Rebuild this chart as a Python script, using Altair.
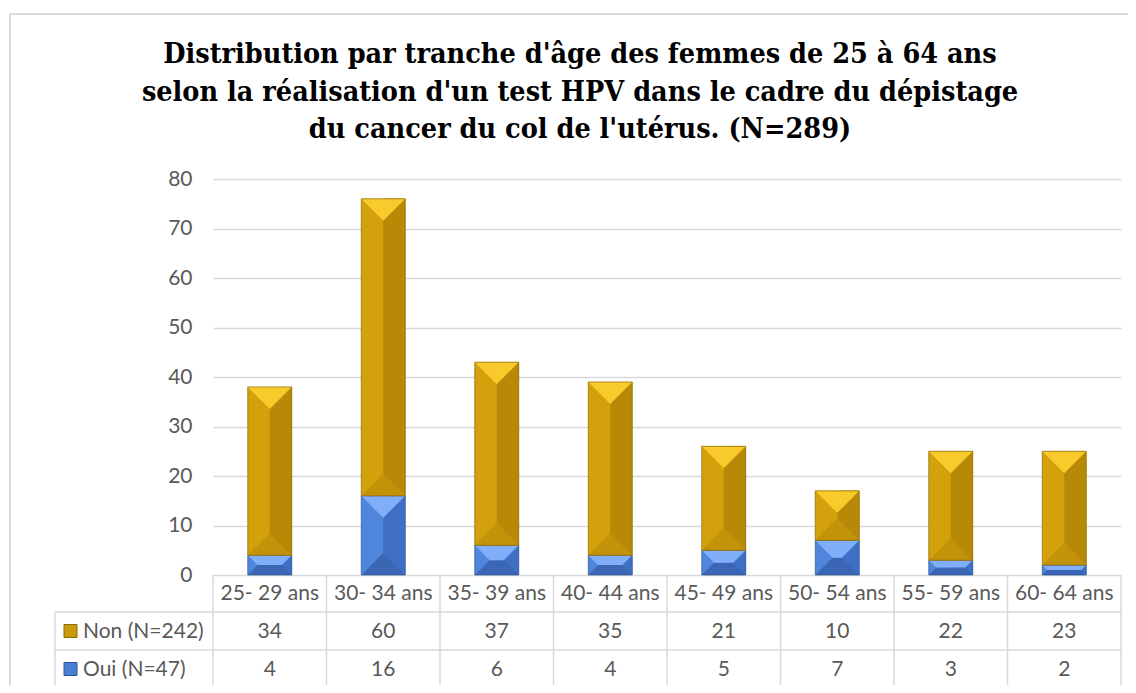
import altair as alt
import pandas as pd

categories = ["25- 29 ans", "30- 34 ans", "35- 39 ans", "40- 44 ans",
              "45- 49 ans", "50- 54 ans", "55- 59 ans", "60- 64 ans"]
non_values = [34, 60, 37, 35, 21, 10, 22, 23]
oui_values = [4, 16, 6, 4, 5, 7, 3, 2]
series_names = ["Oui", "Non"]
row_labels = ["Non (N=242)", "Oui (N=47)"]
y_ticks = [0, 10, 20, 30, 40, 50, 60, 70, 80]
title_lines = [
    "Distribution par tranche d'âge des femmes de 25 à 64 ans",
    "selon la réalisation d'un test HPV dans le cadre du dépistage",
    "du cancer du col de l'utérus. (N=289)",
]

# stacked segments built from the arrays
rows = []
for c, o, n in zip(categories, oui_values, non_values):
    rows.append(dict(cat=c, serie="Oui", start=0, end=o, value=o))
    rows.append(dict(cat=c, serie="Non", start=o, end=o + n, value=n))
df = pd.DataFrame(rows)
df_cat = pd.DataFrame(dict(cat=categories))
df_non = pd.DataFrame(dict(cat=categories, value=non_values))
df_oui = pd.DataFrame(dict(cat=categories, value=oui_values))

W, H = 908, 396
YMAX = 80
BAR_W = 44
FONT = "Lato"
TXT = "#595959"
GRID = "#D9D9D9"

# table geometry (pixels relative to plot area)
HDR_BOTTOM = 433
ROW1_BOTTOM = 471
ROW2_BOTTOM = 509
LEFT_COL = -158

xscale = alt.Scale(domain=categories, paddingInner=0, paddingOuter=0)
xenc = alt.X("cat:N", sort=categories, scale=xscale, axis=None)
yscale = alt.Scale(domain=[0, YMAX], nice=False)
yaxis = alt.Axis(values=y_ticks, grid=True, ticks=False, domain=False,
                 labelPadding=21, labelFontSize=21, labelFont=FONT,
                 labelColor=TXT, gridColor=GRID, gridWidth=1.5, title=None)


def colorenc(rng):
    return alt.Color("serie:N", scale=alt.Scale(domain=series_names, range=rng),
                     legend=None)


# bevel depth in symbol units (1 unit = half bar width), capped at 1
dd_expr = f"min(1, (datum.end - datum.start) * {H / YMAX} / {BAR_W})"
top_shape = ("'M-1,-1L1,-1L' + (1 - datum.d) + ',' + (datum.d - 1) + "
             "'L' + (datum.d - 1) + ',' + (datum.d - 1) + 'Z'")
bot_shape = ("'M-1,1L1,1L' + (1 - datum.d) + ',' + (1 - datum.d) + "
             "'L' + (datum.d - 1) + ',' + (1 - datum.d) + 'Z'")

layers = []
for s in ["Oui", "Non"]:
    seg = (alt.Chart(df).transform_filter(alt.datum.serie == s)
           .transform_calculate(d=dd_expr)
           .transform_calculate(tshape=top_shape, bshape=bot_shape))
    base_col = {"Oui": "#4F86DB", "Non": "#D3A10B"}[s]
    right_col = {"Oui": "#3F6FC4", "Non": "#B78906"}[s]
    top_col = {"Oui": "#80AEF9", "Non": "#F8CA2C"}[s]
    bot_col = {"Oui": "#3B66B5", "Non": "#C29208"}[s]
    layers.append(seg.mark_bar(width=BAR_W).encode(
        x=xenc, y=alt.Y("end:Q", scale=yscale, axis=yaxis), y2="start:Q",
        color=colorenc([base_col, base_col])))
    layers.append(seg.mark_bar(width=BAR_W / 2, xOffset=BAR_W / 4).encode(
        x=xenc, y=alt.Y("end:Q", scale=yscale, axis=yaxis), y2="start:Q",
        color=colorenc([right_col, right_col])))
    layers.append(seg.mark_point(filled=True, opacity=1, size=BAR_W * BAR_W,
                                 strokeWidth=0, clip=True,
                                 yOffset=-BAR_W / 2).encode(
        x=xenc, y=alt.Y("start:Q", scale=yscale, axis=yaxis),
        shape=alt.Shape("bshape:N", scale=None),
        color=colorenc([bot_col, bot_col])))
    layers.append(seg.mark_point(filled=True, opacity=1, size=BAR_W * BAR_W,
                                 strokeWidth=0, clip=True,
                                 yOffset=BAR_W / 2).encode(
        x=xenc, y=alt.Y("end:Q", scale=yscale, axis=yaxis),
        shape=alt.Shape("tshape:N", scale=None),
        color=colorenc([top_col, top_col])))
    edge = {"Oui": "#2F5597", "Non": "#8C6A04"}[s]
    layers.append(seg.mark_bar(width=BAR_W, fillOpacity=0, stroke=edge,
                               strokeWidth=0.7).encode(
        x=xenc, y=alt.Y("end:Q", scale=yscale, axis=yaxis), y2="start:Q"))

one = alt.Data(values=[{}])

# table lines
layers.append(alt.Chart(df_cat).mark_rule(color=GRID, strokeWidth=1.5).encode(
    x=alt.X("cat:N", sort=categories, bandPosition=0, scale=xscale, axis=None),
    y=alt.value(H), y2=alt.value(ROW2_BOTTOM)))
layers.append(alt.Chart(one).mark_rule(color=GRID, strokeWidth=1.5).encode(
    x=alt.value(W), y=alt.value(H), y2=alt.value(ROW2_BOTTOM)))
layers.append(alt.Chart(one).mark_rule(color=GRID, strokeWidth=1.5).encode(
    x=alt.value(LEFT_COL), y=alt.value(HDR_BOTTOM), y2=alt.value(ROW2_BOTTOM)))
for yy in [HDR_BOTTOM, ROW1_BOTTOM, ROW2_BOTTOM]:
    layers.append(alt.Chart(one).mark_rule(color=GRID, strokeWidth=1.5).encode(
        x=alt.value(LEFT_COL), x2=alt.value(W), y=alt.value(yy)))

# outer chart border (top and left)
layers.append(alt.Chart(one).mark_rule(color=GRID, strokeWidth=2).encode(
    x=alt.value(-203), x2=alt.value(940), y=alt.value(-165)))
layers.append(alt.Chart(one).mark_rule(color=GRID, strokeWidth=2).encode(
    x=alt.value(-203), y=alt.value(-165), y2=alt.value(540)))

# title (three centred lines)
for i, line in enumerate(title_lines):
    layers.append(alt.Chart(alt.Data(values=[{"t": line}])).mark_text(
        font="DejaVu Serif Condensed", fontSize=28.5, fontWeight="bold",
        color="#000000", align="center", baseline="alphabetic").encode(
        x=alt.value(367), y=alt.value(-116 + 37.5 * i), text="t:N"))

# table text
txt = dict(font=FONT, fontSize=21, color=TXT, baseline="middle", align="center")
layers.append(alt.Chart(df_cat).mark_text(**txt).encode(
    x=xenc, y=alt.value(415), text="cat:N"))
layers.append(alt.Chart(df_non).mark_text(**txt).encode(
    x=xenc, y=alt.value(453), text="value:Q"))
layers.append(alt.Chart(df_oui).mark_text(**txt).encode(
    x=xenc, y=alt.value(491), text="value:Q"))

# row labels with legend keys
lab = pd.DataFrame(dict(label=row_labels, serie=["Non", "Oui"]))
layers.append(alt.Chart(lab).transform_filter(alt.datum.serie == "Non").mark_text(
    font=FONT, fontSize=21, color=TXT, baseline="middle", align="left").encode(
    x=alt.value(-130), y=alt.value(453), text="label:N"))
layers.append(alt.Chart(lab).transform_filter(alt.datum.serie == "Oui").mark_text(
    font=FONT, fontSize=21, color=TXT, baseline="middle", align="left").encode(
    x=alt.value(-130), y=alt.value(491), text="label:N"))
layers.append(alt.Chart(one).mark_square(size=169, opacity=1, color="#C99A0A",
                                         stroke="#8C6A04", strokeWidth=1).encode(
    x=alt.value(-142.5), y=alt.value(452)))
layers.append(alt.Chart(one).mark_square(size=169, opacity=1, color="#4A7ED4",
                                         stroke="#2F5597", strokeWidth=1).encode(
    x=alt.value(-142.5), y=alt.value(490)))

chart = alt.layer(*layers).properties(
    width=W, height=H,
    padding={"left": 205, "top": 171, "right": 7, "bottom": 110},
    autosize=alt.AutoSizeParams(type="none"),
).configure_view(stroke=None).resolve_scale(color="independent")

chart.save("out.html", embed_options={"renderer": "svg", "actions": False})
